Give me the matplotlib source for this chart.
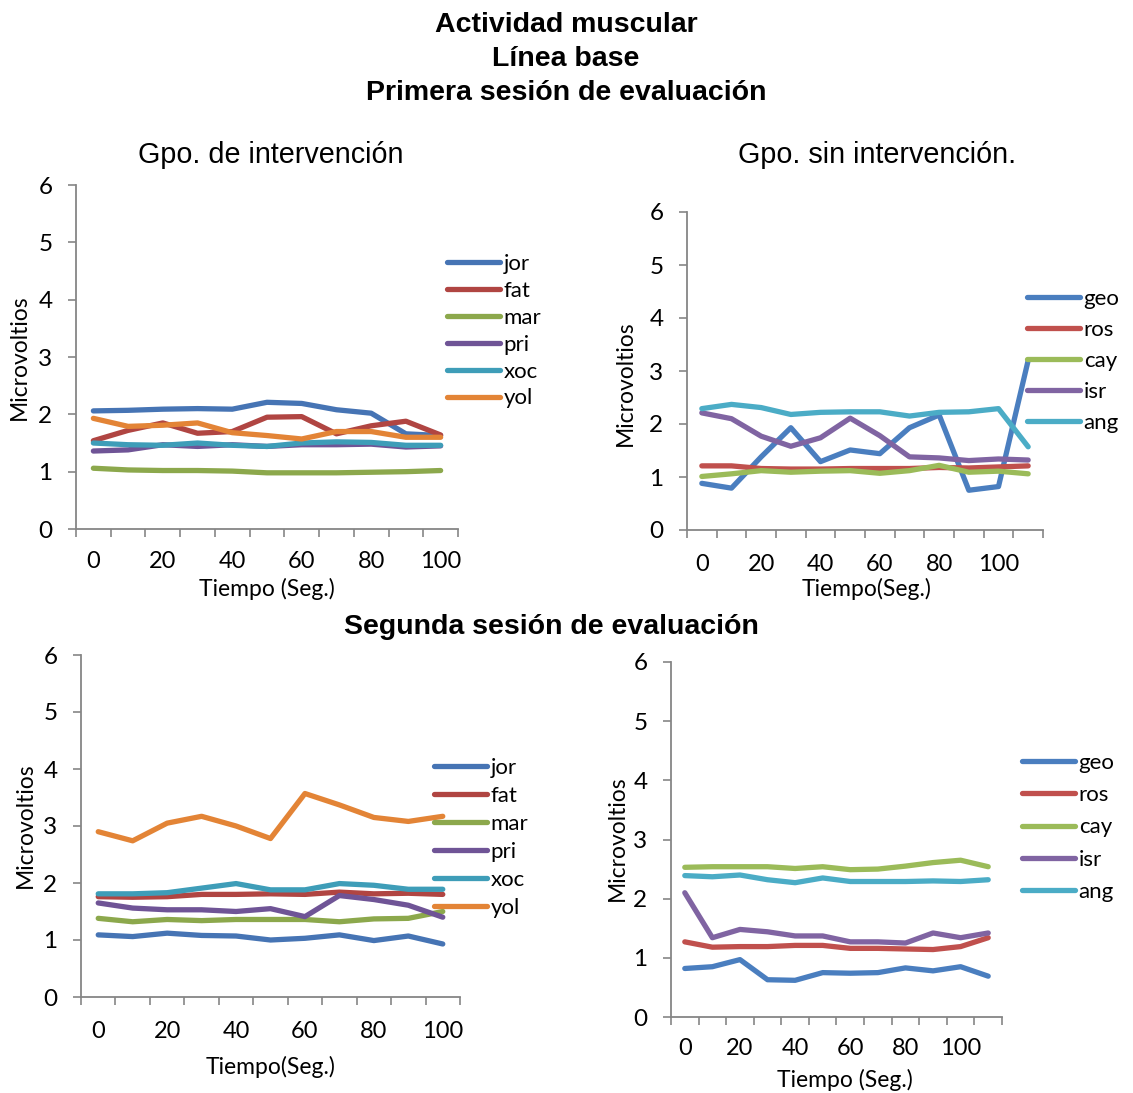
import numpy as np
import matplotlib.pyplot as plt

W, H = 1133, 1093

# tiempo en segundos (categorias del eje x)
tiempo_int = [0, 10, 20, 30, 40, 50, 60, 70, 80, 90, 100]
tiempo_sin = [0, 10, 20, 30, 40, 50, 60, 70, 80, 90, 100, 110]

nombres_int = ["jor", "fat", "mar", "pri", "xoc", "yol"]
nombres_sin = ["geo", "ros", "cay", "isr", "ang"]

# primera sesion - grupo de intervencion
jor_1 = [2.06, 2.07, 2.09, 2.10, 2.09, 2.21, 2.19, 2.08, 2.02, 1.66, 1.63]
fat_1 = [1.54, 1.72, 1.85, 1.67, 1.70, 1.95, 1.96, 1.66, 1.80, 1.88, 1.64]
mar_1 = [1.06, 1.03, 1.02, 1.02, 1.01, 0.98, 0.98, 0.98, 0.99, 1.00, 1.02]
pri_1 = [1.36, 1.38, 1.47, 1.44, 1.47, 1.44, 1.47, 1.47, 1.48, 1.43, 1.45]
xoc_1 = [1.50, 1.47, 1.46, 1.50, 1.46, 1.44, 1.50, 1.52, 1.51, 1.46, 1.46]
yol_1 = [1.93, 1.79, 1.81, 1.85, 1.68, 1.63, 1.57, 1.70, 1.70, 1.60, 1.60]

# primera sesion - grupo sin intervencion
geo_1 = [0.88, 0.79, 1.38, 1.93, 1.29, 1.51, 1.44, 1.93, 2.17, 0.75, 0.82, 3.20]
ros_1 = [1.21, 1.21, 1.16, 1.15, 1.15, 1.16, 1.16, 1.16, 1.18, 1.17, 1.19, 1.21]
cay_1 = [1.01, 1.06, 1.12, 1.09, 1.11, 1.12, 1.07, 1.12, 1.22, 1.09, 1.11, 1.06]
isr_1 = [2.21, 2.10, 1.77, 1.58, 1.74, 2.11, 1.78, 1.38, 1.36, 1.31, 1.34, 1.32]
ang_1 = [2.29, 2.37, 2.31, 2.18, 2.22, 2.23, 2.23, 2.15, 2.22, 2.23, 2.29, 1.57]

# segunda sesion - grupo de intervencion
jor_2 = [1.09, 1.06, 1.12, 1.08, 1.07, 1.00, 1.03, 1.09, 0.99, 1.07, 0.93]
fat_2 = [1.76, 1.75, 1.76, 1.80, 1.80, 1.81, 1.80, 1.84, 1.81, 1.82, 1.80]
mar_2 = [1.38, 1.32, 1.36, 1.34, 1.36, 1.36, 1.36, 1.32, 1.37, 1.38, 1.50]
pri_2 = [1.65, 1.56, 1.53, 1.53, 1.50, 1.55, 1.41, 1.78, 1.71, 1.61, 1.40]
xoc_2 = [1.81, 1.81, 1.83, 1.91, 1.99, 1.88, 1.88, 1.99, 1.96, 1.89, 1.89]
yol_2 = [2.90, 2.74, 3.05, 3.17, 3.00, 2.78, 3.57, 3.37, 3.15, 3.08, 3.17]

# segunda sesion - grupo sin intervencion
geo_2 = [0.82, 0.85, 0.97, 0.63, 0.62, 0.75, 0.74, 0.75, 0.83, 0.78, 0.85, 0.69]
ros_2 = [1.27, 1.18, 1.19, 1.19, 1.21, 1.21, 1.16, 1.16, 1.15, 1.14, 1.19, 1.34]
cay_2 = [2.53, 2.54, 2.54, 2.54, 2.51, 2.54, 2.49, 2.50, 2.55, 2.61, 2.65, 2.54]
isr_2 = [2.10, 1.34, 1.48, 1.44, 1.37, 1.37, 1.27, 1.27, 1.25, 1.42, 1.34, 1.42]
ang_2 = [2.39, 2.37, 2.40, 2.32, 2.27, 2.35, 2.29, 2.29, 2.29, 2.30, 2.29, 2.32]

col_int = ["#4674B4", "#B04542", "#8CA84C", "#6F5496", "#3E9DB8", "#E38436"]
col_sin = ["#4A7EBF", "#C0504D", "#9BBB59", "#8064A2", "#4BACC6"]
gris = "#868686"

plt.rcParams["font.family"] = ["Lato", "DejaVu Sans"]


def caja(x0, y0, x1, y1):
    # rectangulo en pixeles -> coordenadas de figura
    return [x0 / W, 1 - y1 / H, (x1 - x0) / W, (y1 - y0) / H]


def panel(ax, tiempo, series, nombres, colores, xlab, xlab_pos, ylab_pos,
          leg_pos, leg_sep, pad_x):
    n = len(tiempo)
    pos = np.arange(n)
    for vals, nom, col in zip(series, nombres, colores):
        ax.plot(pos, vals, color=col, lw=3.8, solid_capstyle="round",
                solid_joinstyle="round", label=nom, clip_on=False)
    ax.set_xlim(-0.5, n - 0.5)
    ax.set_ylim(0, 6)
    ax.set_yticks(range(7))
    ax.set_xticks(np.arange(n + 1) - 0.5)
    ax.set_xticklabels([])
    ax.set_xticks(pos[::2], minor=True)
    ax.set_xticklabels([str(t) for t in tiempo[::2]], minor=True)
    ax.tick_params(axis="x", which="major", length=6, width=1.2, color=gris,
                   direction="out")
    ax.tick_params(axis="x", which="minor", length=0, pad=pad_x, labelsize=17)
    ax.tick_params(axis="y", length=6, width=1.2, color=gris, pad=11,
                   labelsize=17.5)
    for s in ["top", "right"]:
        ax.spines[s].set_visible(False)
    for s in ["left", "bottom"]:
        ax.spines[s].set_color(gris)
        ax.spines[s].set_linewidth(1.3)
    ax.set_xlabel(xlab, fontsize=16.5, va="center")
    ax.xaxis.set_label_coords(*xlab_pos)
    ax.set_ylabel("Microvoltios", fontsize=16.5, va="center")
    ax.yaxis.set_label_coords(*ylab_pos)
    ax.legend(loc="upper left", bbox_to_anchor=(leg_pos[0] / W, 1 - leg_pos[1] / H),
              bbox_transform=ax.figure.transFigure, frameon=False, fontsize=16,
              handlelength=2.4, handletextpad=0.15, borderpad=0,
              borderaxespad=0, labelspacing=leg_sep)


fig = plt.figure(figsize=(W / 100, H / 100), dpi=100)

titulo = dict(ha="center", va="center", fontsize=20.5, fontweight="bold",
              family="Liberation Sans")
fig.text(566 / W, 1 - 25 / H, "Actividad muscular", **titulo)
fig.text(566 / W, 1 - 59 / H, "Línea base", **titulo)
fig.text(566 / W, 1 - 93 / H, "Primera sesión de evaluación", **titulo)
fig.text(551 / W, 1 - 627 / H, "Segunda sesión de evaluación", **titulo)

sub = dict(ha="center", va="center", fontsize=20.7, family="Liberation Sans")
fig.text(271 / W, 1 - 155 / H, "Gpo. de intervención", **sub)
fig.text(877 / W, 1 - 155 / H, "Gpo. sin intervención.", **sub)

ax1 = fig.add_axes(caja(76, 185, 458, 529))
panel(ax1, tiempo_int, [jor_1, fat_1, mar_1, pri_1, xoc_1, yol_1],
      nombres_int, col_int, "Tiempo (Seg.)", (0.499, -0.174),
      (-0.147, 0.5), (447, 254), 0.31, 16)

ax2 = fig.add_axes(caja(687, 212, 1043, 530))
panel(ax2, tiempo_sin, [geo_1, ros_1, cay_1, isr_1, ang_1],
      nombres_sin, col_sin, "Tiempo(Seg.)", (0.503, -0.186),
      (-0.174, 0.462), (1027, 289), 0.49, 17)

ax3 = fig.add_axes(caja(81, 655, 460, 997))
panel(ax3, tiempo_int, [jor_2, fat_2, mar_2, pri_2, xoc_2, yol_2],
      nombres_int, col_int, "Tiempo(Seg.)", (0.499, -0.205),
      (-0.148, 0.503), (434, 758), 0.36, 17)

ax4 = fig.add_axes(caja(671, 662, 1002, 1017))
panel(ax4, tiempo_sin, [geo_2, ros_2, cay_2, isr_2, ang_2],
      nombres_sin, col_sin, "Tiempo (Seg.)", (0.526, -0.177),
      (-0.163, 0.504), (1022, 753), 0.55, 15)

fig.savefig("out.png", dpi=100)
